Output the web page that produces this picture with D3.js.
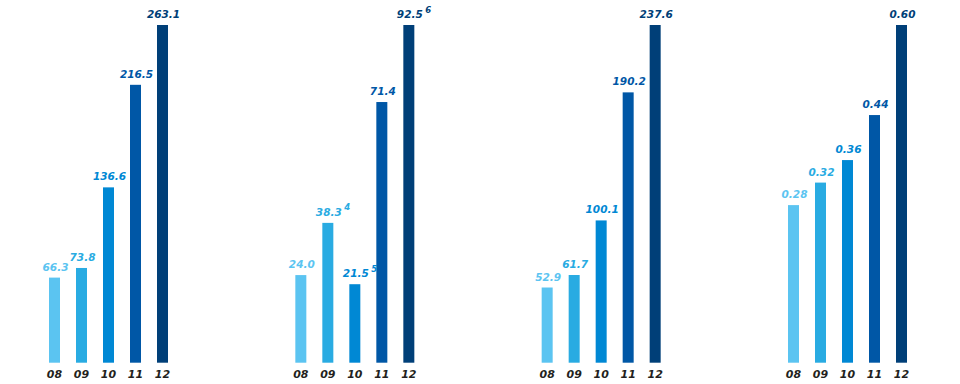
<!DOCTYPE html>
<html lang="en">

<head>
    <meta charset="UTF-8">
    <title>Bar panels 08-12</title>
    <script src="https://d3js.org/d3.v7.min.js"></script>
    <style>
        body {
            margin: 0;
            overflow: hidden;
            background: #fff;
        }

        text {
            font-family: "DejaVu Sans", sans-serif;
            font-weight: bold;
            font-style: oblique;
        }

        .year {
            fill: #231f20;
            font-size: 11px;
        }

        .val {
            font-size: 10.5px;
        }

        .sup {
            font-size: 8.5px;
        }
    </style>
</head>

<body>
    <div id="chart"></div>
</body>

<script>
    const width = 960;
    const height = 384;

    // data, one array per panel
    const years = ["08", "09", "10", "11", "12"];
    const panel1 = [66.3, 73.8, 136.6, 216.5, 263.1];
    const panel2 = [24.0, 38.3, 21.5, 71.4, 92.5];
    const panel3 = [52.9, 61.7, 100.1, 190.2, 237.6];
    const panel4 = [0.28, 0.32, 0.36, 0.44, 0.60];
    const labels1 = ["66.3", "73.8", "136.6", "216.5", "263.1"];
    const labels2 = ["24.0", "38.3", "21.5", "71.4", "92.5"];
    const labels3 = ["52.9", "61.7", "100.1", "190.2", "237.6"];
    const labels4 = ["0.28", "0.32", "0.36", "0.44", "0.60"];
    const notes2 = ["", "4", "5", "", "6"];   // footnote marks
    const colors = ["#5bc4f1", "#29abe2", "#0088d4", "#0057a6", "#003f78"];

    const panels = [
        { values: panel1, labels: labels1, notes: null },
        { values: panel2, labels: labels2, notes: notes2 },
        { values: panel3, labels: labels3, notes: null },
        { values: panel4, labels: labels4, notes: null }
    ];

    const baseY = 362.7;
    const topY = 25;

    const svg = d3.select("#chart")
        .append("svg")
        .attr("width", width)
        .attr("height", height);

    const panelX = d3.scalePoint()
        .domain(d3.range(panels.length))
        .range([49, 788]);

    const color = d3.scaleOrdinal().domain(years).range(colors);

    panels.forEach((p, i) => {
        const left = panelX(i);
        const x = d3.scaleBand()
            .domain(years)
            .range([left, left + 119])
            .paddingInner(16 / 27)
            .paddingOuter(0);
        const y = d3.scaleLinear()
            .domain([0, d3.max(p.values)])
            .range([baseY, topY]);

        const g = svg.append("g");

        const rows = years.map((yr, j) => ({
            year: yr, v: p.values[j], label: p.labels[j],
            note: p.notes ? p.notes[j] : ""
        }));

        g.selectAll("rect")
            .data(rows)
            .enter()
            .append("rect")
            .attr("x", d => x(d.year))
            .attr("width", x.bandwidth())
            .attr("y", d => y(d.v))
            .attr("height", d => baseY - y(d.v))
            .attr("fill", d => color(d.year));

        const vals = g.selectAll("text.val")
            .data(rows)
            .enter()
            .append("text")
            .attr("class", "val")
            .attr("x", d => x(d.year) + x.bandwidth() / 2 + 1)
            .attr("y", d => y(d.v) - 7)
            .attr("text-anchor", "middle")
            .attr("fill", d => color(d.year))
            .text(d => d.label);

        // footnote superscripts after the value
        vals.each(function (d) {
            if (!d.note) return;
            const w = this.getComputedTextLength();
            g.append("text")
                .attr("class", "sup")
                .attr("x", x(d.year) + x.bandwidth() / 2 + 1 + w / 2 + 2.5)
                .attr("y", y(d.v) - 12.5)
                .attr("fill", color(d.year))
                .text(d.note);
        });

        g.selectAll("text.year")
            .data(rows)
            .enter()
            .append("text")
            .attr("class", "year")
            .attr("x", d => x(d.year) + x.bandwidth() / 2)
            .attr("y", 378.3)
            .attr("text-anchor", "middle")
            .text(d => d.year);
    });
</script>

</html>
